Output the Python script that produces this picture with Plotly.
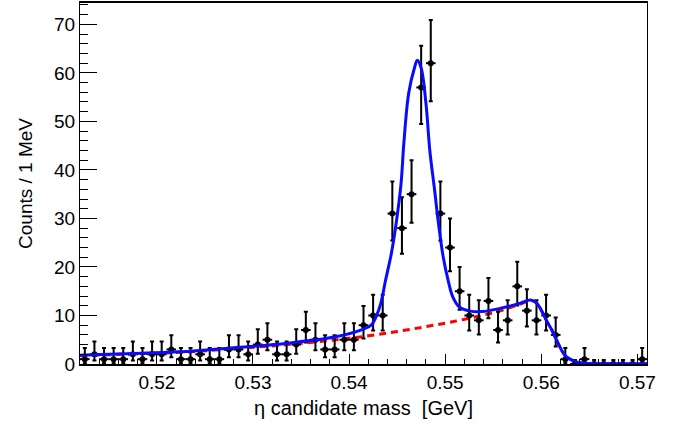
import numpy as np
import plotly.graph_objects as go

# ---- data (1 MeV bins from 0.512 to 0.571 GeV) ----
bin_lo = 0.512
bin_width = 0.001
counts = [1, 2, 1, 1, 1, 2, 1, 2, 2, 3,
          1, 1, 2, 1, 1, 3, 3, 2, 4, 5,
          2, 2, 4, 7, 5, 3, 3, 5, 5, 8,
          10, 10, 31, 28, 35, 57, 62, 31, 24, 15,
          10, 9, 13, 7, 9, 16, 11, 9, 10, 6,
          1, 0, 1, 0, 0, 0, 0, 0, 1]

# total fit (blue)
fit_x = [0.5120, 0.5165, 0.5224, 0.5277, 0.5336, 0.5386, 0.5415, 0.5423, 0.5428,
         0.5433, 0.5438, 0.5444, 0.5449, 0.5454, 0.5457, 0.5462, 0.5468, 0.5471,
         0.5475, 0.5480, 0.5484, 0.5489, 0.5493, 0.5498, 0.5503, 0.5508, 0.5515,
         0.5526, 0.5538, 0.5558, 0.5579, 0.5589, 0.5595, 0.5600, 0.5605, 0.5611,
         0.5616, 0.5621, 0.5626, 0.5632, 0.5639, 0.5650, 0.5671, 0.5710]
fit_y = [1.8, 2.1, 2.5, 3.3, 4.3, 5.6, 7.2, 8.0, 9.7,
         12.5, 17.3, 22.8, 29.0, 37.0, 45.5, 55.8, 61.0, 62.6,
         61.0, 53.7, 44.0, 35.8, 29.0, 22.0, 17.3, 13.8, 11.7,
         10.9, 10.8, 11.5, 12.6, 13.2, 12.6, 11.1, 9.1, 7.0,
         4.9, 2.9, 1.5, 0.8, 0.3, 0.1, 0.05, 0.05]

# background component (red dashed)
bkg_x = [0.5120, 0.5165, 0.5224, 0.5277, 0.5336, 0.5386, 0.5420, 0.5450, 0.5480,
         0.5510, 0.5540, 0.5558, 0.5579, 0.5589, 0.5595, 0.5600, 0.5605, 0.5611,
         0.5616, 0.5621, 0.5626, 0.5632, 0.5639, 0.5650, 0.5671, 0.5710]
bkg_y = [1.7, 2.0, 2.4, 3.1, 4.0, 5.0, 5.8, 6.7, 7.7,
         8.8, 10.1, 11.0, 12.4, 13.1, 12.6, 11.1, 9.1, 7.0,
         4.9, 2.9, 1.5, 0.8, 0.3, 0.1, 0.05, 0.05]

x_ticks = [0.52, 0.53, 0.54, 0.55, 0.56, 0.57]
y_ticks = [0, 10, 20, 30, 40, 50, 60, 70]

# ---- derived ----
n = np.array(counts, dtype=float)
centers = bin_lo + bin_width * (np.arange(len(counts)) + 0.5)
err_up = np.where(n > 0, np.sqrt(n + 0.75) + 1.0, 0.8)
nn = np.maximum(n, 1)
low = np.where(n > 0, n * (1 - 1 / (9 * nn) - 1 / (3 * np.sqrt(nn))) ** 3, 0)
err_dn = n - low

FONT = "Liberation Sans, Arial, Helvetica, sans-serif"
FS = 19

fig = go.Figure()
fig.add_trace(go.Scatter(
    x=bkg_x, y=bkg_y, mode="lines", line_shape="spline",
    line=dict(color="#ff0000", width=3, dash="7px,5px"), hoverinfo="skip"))
fig.add_trace(go.Scatter(
    x=centers, y=n, mode="markers",
    marker=dict(color="black", size=6),
    error_y=dict(type="data", symmetric=False, array=err_up, arrayminus=err_dn,
                 color="black", thickness=2, width=2),
    error_x=dict(type="constant", value=bin_width / 2, color="black", thickness=2, width=0)))
fig.add_trace(go.Scatter(
    x=fit_x, y=fit_y, mode="lines", line_shape="spline",
    line=dict(color="#0a0aff", width=3), hoverinfo="skip"))

fig.update_layout(
    width=680, height=428,
    margin=dict(l=80, r=33, t=3, b=64),
    paper_bgcolor="white", plot_bgcolor="white",
    showlegend=False,
    font=dict(family=FONT, size=FS, color="black"),
    xaxis=dict(
        range=[0.512, 0.571], tickvals=x_ticks,
        ticktext=[f"{v:.2f}" for v in x_ticks],
        ticks="inside", ticklen=10, tickwidth=1, tickcolor="black",
        minor=dict(ticks="inside", ticklen=5, dtick=0.002, tickcolor="black", tick0=0.512),
        showline=True, linecolor="black", linewidth=1.5, mirror=True,
        showgrid=False, zeroline=False, automargin=False,
        title=dict(text="η candidate mass\u00a0\u00a0[GeV]", font=dict(size=20), standoff=9),
        tickfont=dict(size=FS),
    ),
    yaxis=dict(
        range=[0, 74.4], tickvals=y_ticks,
        ticks="inside", ticklen=17, tickwidth=1, tickcolor="black",
        minor=dict(ticks="inside", ticklen=8, dtick=2, tickcolor="black"),
        showline=True, linecolor="black", linewidth=1, mirror=True,
        showgrid=False, zeroline=False, automargin=False,
        title=dict(text="Counts / 1 MeV", font=dict(size=FS), standoff=16),
        tickfont=dict(size=FS),
    ),
)

fig.write_html("out.html", config={"displayModeBar": False},
               post_script="document.body.style.margin='0';")
